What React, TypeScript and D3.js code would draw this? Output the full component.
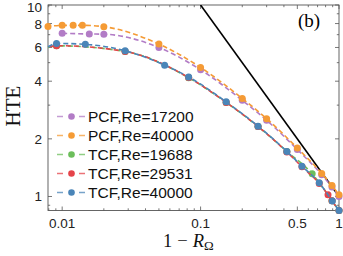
import React from "react";
import * as d3 from "d3";

// ---- data ----
const pcf17200X = [0.01, 0.0157, 0.02, 0.05, 0.1, 0.2, 0.3, 0.5, 0.75, 0.89, 1.0];
const pcf17200Y = [7.11, 7.06, 7.04, 6.0, 4.59, 3.18, 2.5, 1.76, 1.3, 1.12, 1.0];

const pcf40000X = [0.0079, 0.01, 0.012, 0.014, 0.02, 0.05, 0.1, 0.2, 0.3, 0.5, 0.75, 0.89, 1.0];
const pcf40000Y = [7.72, 7.83, 7.83, 7.83, 7.7, 6.25, 4.72, 3.25, 2.55, 1.79, 1.32, 1.14, 1.02];

const tcf19688X = [0.0091, 0.0285, 0.082, 0.153, 0.26, 0.42, 0.64, 0.89, 1.0];
const tcf19688Y = [6.12, 5.72, 4.17, 3.1, 2.32, 1.72, 1.315, 0.95, 0.845];

const tcf29531X = [0.0091, 0.0285, 0.082, 0.153, 0.26, 0.42, 0.54, 0.72, 0.833, 0.89, 1.0];
const tcf29531Y = [6.13, 5.72, 4.18, 3.1, 2.32, 1.71, 1.43, 1.17, 1.02, 0.95, 0.845];

const tcf40000X = [0.0091, 0.0147, 0.0285, 0.055, 0.082, 0.153, 0.26, 0.42, 0.54, 0.72, 0.895, 1.0];
const tcf40000Y = [6.3, 6.23, 5.77, 4.85, 4.21, 3.12, 2.33, 1.72, 1.44, 1.18, 0.947, 0.845];

// TCF dashed curves continue to the left frame edge (no marker there)
const tcfLeadX = 0.0079;
const tcfLeadY = [6.0, 6.02, 6.05];

const legendLabels = ["PCF,Re=17200", "PCF,Re=40000", "TCF,Re=19688", "TCF,Re=29531", "TCF,Re=40000"];
const colors = ["#b27cc6", "#f59b35", "#6cbe5b", "#e5444a", "#4a85b8"];

const xTickLabels = [0.01, 0.1, 0.5, 1];
const yTickLabels = [1, 2, 4, 6, 8, 10];
const refLineX = [0.1, 1];

// ---- layout ----
const W = 343, H = 256;
const L = 48, R = 339, T = 5, B = 210.5;

const x = d3.scaleLog().domain([0.0079, 1.0]).range([L, R]);
const y = d3.scaleLog().domain([0.845, 10]).range([B, T]);

const sans = "'Liberation Sans', Arial, Helvetica, sans-serif";
const serif = "'Liberation Serif', 'Times New Roman', serif";

type Series = { xs: number[]; ys: number[]; lead?: number };

export default function App() {
  const series: Series[] = [
    { xs: pcf17200X, ys: pcf17200Y },
    { xs: pcf40000X, ys: pcf40000Y },
    { xs: tcf19688X, ys: tcf19688Y, lead: tcfLeadY[0] },
    { xs: tcf29531X, ys: tcf29531Y, lead: tcfLeadY[1] },
    { xs: tcf40000X, ys: tcf40000Y, lead: tcfLeadY[2] },
  ];

  const line = d3
    .line<[number, number]>()
    .x((d) => x(d[0]))
    .y((d) => y(d[1]))
    .curve(d3.curveMonotoneX);

  // minor ticks
  const xMinor: number[] = [];
  [0.001, 0.01, 0.1].forEach((dec) => {
    for (let k = 1; k <= 9; k++) {
      const v = dec * k;
      if (v >= 0.0079 && v <= 1.0001) xMinor.push(v);
    }
  });
  xMinor.push(1);
  const yMinor: number[] = [0.9, 1, 2, 3, 4, 5, 6, 7, 8, 9, 10];
  const xMajor = [0.01, 0.1, 0.5, 1];

  const refLine = d3
    .line<number>()
    .x((v) => x(v))
    .y((v) => y(1 / v));

  const legendY0 = 121.5;
  const legendStep = 19;

  return (
    <svg
      width={W}
      height={H}
      style={{ position: "absolute", left: 0, top: 0, background: "#fff" }}
    >
      <defs>
        <clipPath id="plotclip">
          <rect x={L - 6} y={T} width={R - L + 12} height={B - T + 6} />
        </clipPath>
        <clipPath id="lineclip">
          <rect x={L} y={T} width={R - L + 1} height={B - T} />
        </clipPath>
      </defs>

      {/* frame */}
      <rect x={L} y={T} width={R - L} height={B - T} fill="none" stroke="#555" strokeWidth={0.9} />

      {/* x ticks (bottom & top) */}
      {xMinor.map((v, i) => {
        const major = xMajor.some((m) => Math.abs(m - v) < 1e-9);
        const len = major ? 4 : 2.2;
        return (
          <g key={"xt" + i} stroke="#555" strokeWidth={0.8}>
            <line x1={x(v)} x2={x(v)} y1={B} y2={B - len} />
            <line x1={x(v)} x2={x(v)} y1={T} y2={T + len} />
          </g>
        );
      })}
      {/* y ticks (left & right) */}
      {yMinor.map((v, i) => {
        const major = yTickLabels.includes(v);
        const len = major ? 4 : 2.2;
        return (
          <g key={"yt" + i} stroke="#555" strokeWidth={0.8}>
            <line x1={L} x2={L + len} y1={y(v)} y2={y(v)} />
            <line x1={R} x2={R - len} y1={y(v)} y2={y(v)} />
          </g>
        );
      })}

      {/* tick labels */}
      {xTickLabels.map((v) => (
        <text
          key={"xl" + v}
          x={x(v)}
          y={228}
          textAnchor="middle"
          fontFamily={sans}
          fontSize={13.5}
          fill="#222"
        >
          {String(v)}
        </text>
      ))}
      {yTickLabels.map((v) => (
        <text
          key={"yl" + v}
          x={42}
          y={Math.max(y(v) + 5, 12)}
          textAnchor="end"
          fontFamily={sans}
          fontSize={13.5}
          fill="#222"
        >
          {String(v)}
        </text>
      ))}

      {/* reference line HTE = 1/(1-R) */}
      <g clipPath="url(#lineclip)">
        <path d={refLine(refLineX) || ""} fill="none" stroke="#000" strokeWidth={1.6} />
      </g>

      {/* series */}
      <g clipPath="url(#plotclip)">
        {series.map((s, si) => {
          const pts: [number, number][] = s.xs.map((v, i) => [v, s.ys[i]]);
          const linePts: [number, number][] =
            s.lead !== undefined ? [[tcfLeadX, s.lead], ...pts] : pts;
          return (
            <g key={"s" + si}>
              <path
                d={line(linePts) || ""}
                fill="none"
                stroke={colors[si]}
                strokeWidth={1.6}
                strokeDasharray="5,3"
                strokeDashoffset={si * 2}
              />
              {pts.map((p, i) => (
                <circle key={i} cx={x(p[0])} cy={y(p[1])} r={3.5} fill={colors[si]} />
              ))}
            </g>
          );
        })}
      </g>

      {/* legend */}
      {legendLabels.map((lab, i) => {
        const by = legendY0 + i * legendStep;
        const cy = by - 5;
        return (
          <g key={"lg" + i}>
            <line x1={57} x2={63} y1={cy} y2={cy} stroke={colors[i]} strokeWidth={1.5} opacity={0.75} />
            <circle cx={71.5} cy={cy} r={3.3} fill={colors[i]} />
            <line x1={79} x2={85} y1={cy} y2={cy} stroke={colors[i]} strokeWidth={1.5} opacity={0.75} />
            <text x={88} y={by} fontFamily={sans} fontSize={15.5} fill="#111">
              {lab}
            </text>
          </g>
        );
      })}

      {/* panel label */}
      <text x={298} y={27} fontFamily={serif} fontSize={19} fill="#000">
        (b)
      </text>

      {/* axis titles */}
      <text
        transform={`translate(20,${106}) rotate(-90)`}
        textAnchor="middle"
        fontFamily={serif}
        fontSize={21}
        fill="#111"
      >
        HTE
      </text>
      <text x={163} y={247} fontFamily={serif} fontSize={18.5} fill="#111">
        <tspan>1</tspan>
        <tspan dx={5}>−</tspan>
        <tspan dx={5} fontStyle="italic">R</tspan>
        <tspan fontSize={13} dy={3}>Ω</tspan>
      </text>
    </svg>
  );
}
